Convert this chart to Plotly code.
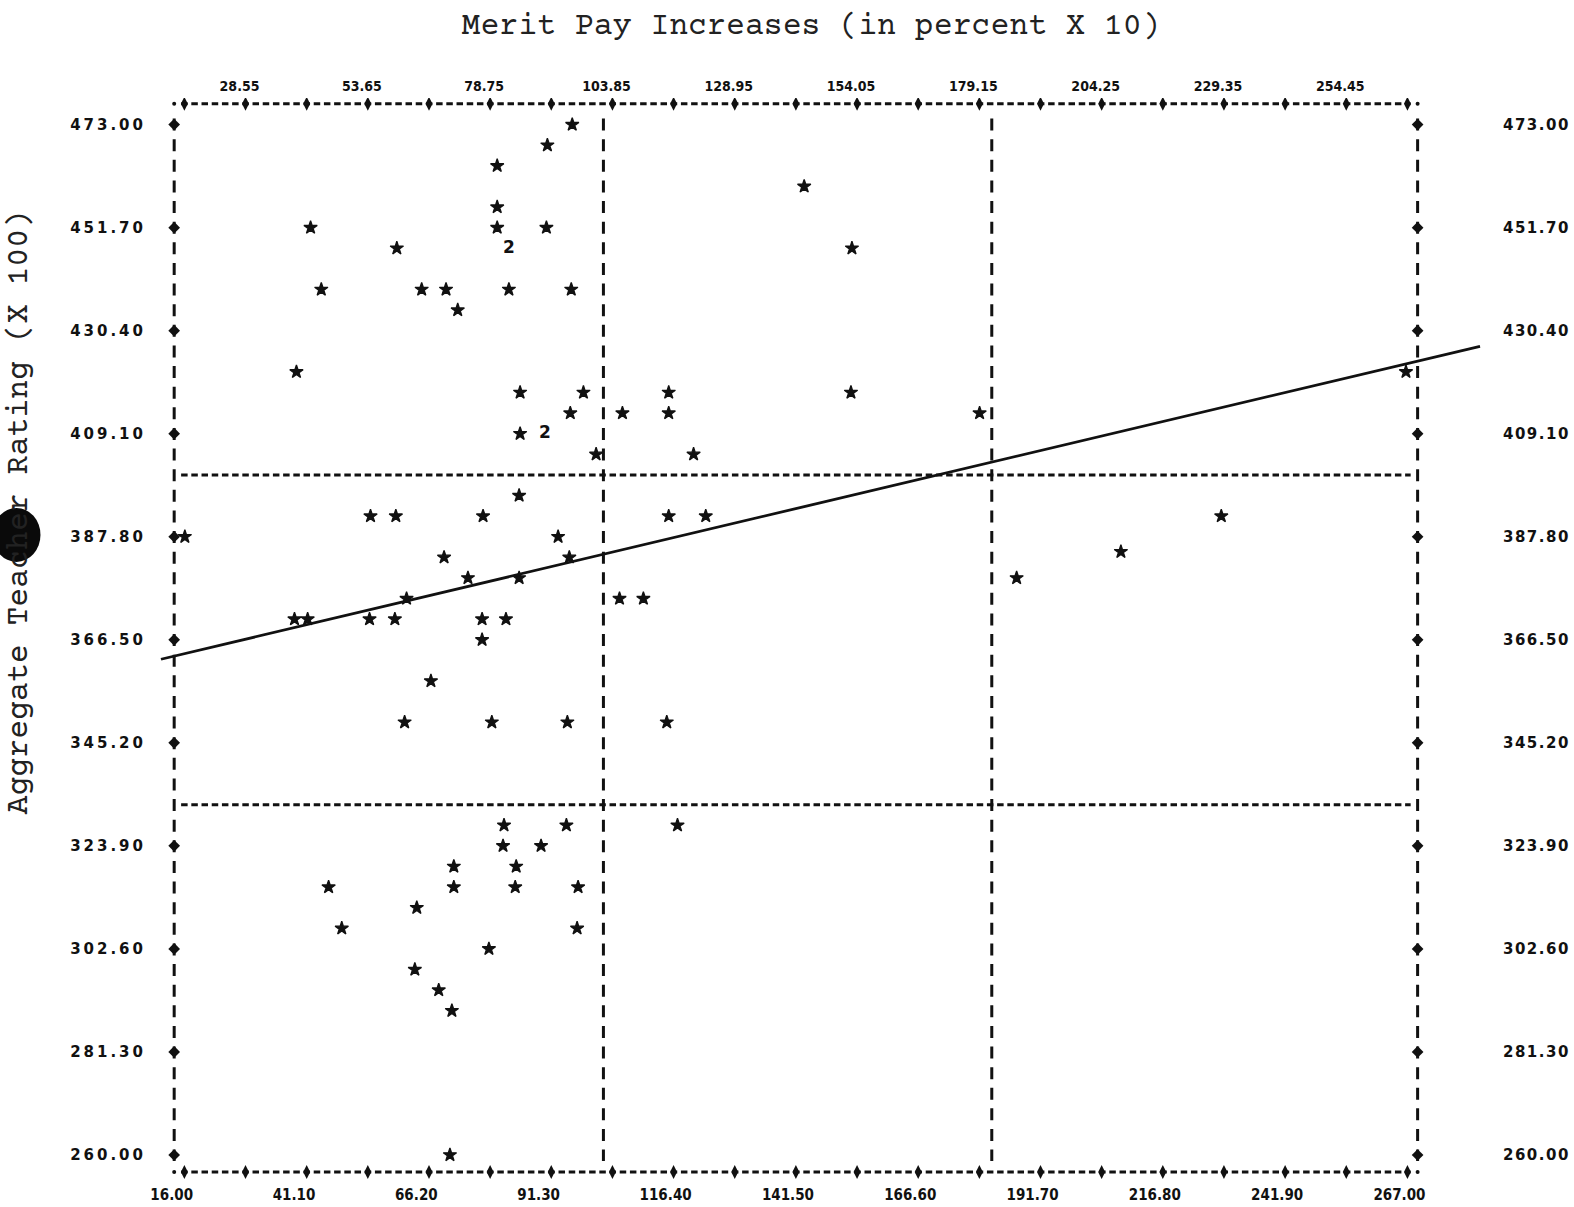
import numpy as np
import plotly.graph_objects as go

# ---------------- data ----------------
PAY_X = [95.6, 90.5, 80.2, 143.2, 80.2, 41.9, 80.2, 90.3, 59.6, 153.0,
         44.1, 64.7, 69.7, 82.6, 95.4, 72.1, 39.0, 266.7, 84.9, 97.9,
         115.4, 152.8, 95.2, 105.9, 115.4, 179.2, 84.9, 100.5, 120.5,
         84.7, 54.2, 59.4, 77.3, 115.4, 123.0, 228.8, 16.1, 92.7, 208.2,
         69.3, 95.0, 74.2, 84.7, 186.8, 61.6, 105.3, 110.2, 38.6, 41.3,
         54.0, 59.2, 77.1, 82.0, 77.1, 66.6, 61.2, 79.1, 94.6, 115.0,
         81.6, 94.4, 117.2, 81.4, 89.2, 71.3, 84.1, 45.6, 71.3, 83.9,
         96.8, 63.7, 48.3, 96.6, 78.5, 63.3, 68.2, 70.9, 70.5]
RATING_Y = [473.00, 468.74, 464.48, 460.22, 455.96, 451.70, 451.70, 451.70, 447.44, 447.44,
            438.92, 438.92, 438.92, 438.92, 438.92, 434.66, 421.88, 421.88, 417.62, 417.62,
            417.62, 417.62, 413.36, 413.36, 413.36, 413.36, 409.10, 404.84, 404.84,
            396.32, 392.06, 392.06, 392.06, 392.06, 392.06, 392.06, 387.80, 387.80, 384.70,
            383.54, 383.54, 379.28, 379.28, 379.28, 375.02, 375.02, 375.02, 370.76, 370.76,
            370.76, 370.76, 370.76, 370.76, 366.50, 357.98, 349.46, 349.46, 349.46, 349.46,
            328.16, 328.16, 328.16, 323.90, 323.90, 319.64, 319.64, 315.38, 315.38, 315.38,
            315.38, 311.12, 306.86, 306.86, 302.60, 298.34, 294.08, 289.82, 260.00]

# cells holding two cases (printed as "2")
DOUBLE_X = [82.6, 90.0]
DOUBLE_Y = [447.44, 409.10]
DOUBLE_LABEL = ["2", "2"]

# hand-drawn regression line
REG_INTERCEPT = 359.8
REG_SLOPE = 0.239
REG_X_ENDS = [11.2, 281.9]

X_BOTTOM_TICKS = [16.00, 41.10, 66.20, 91.30, 116.40, 141.50, 166.60, 191.70, 216.80, 241.90, 267.00]
X_TOP_TICKS = [28.55, 53.65, 78.75, 103.85, 128.95, 154.05, 179.15, 204.25, 229.35, 254.45]
Y_TICKS = [473.00, 451.70, 430.40, 409.10, 387.80, 366.50, 345.20, 323.90, 302.60, 281.30, 260.00]

X_REF_LINES = [102.0, 181.7]
Y_REF_LINES = [400.58, 332.42]
FRAME_X = [13.91, 269.09]
FRAME_Y = [256.5, 477.3]

X_RANGE = [11.0, 282.1]
Y_RANGE = [254.0, 478.5]

# ---------------- geometry ----------------
W, H = 1574, 1207
ML, MR, MT, MB = 159.6, 92.5, 97.9, 22.6
PX_PER_X = (W - ML - MR) / (X_RANGE[1] - X_RANGE[0])
PX_PER_Y = (H - MT - MB) / (Y_RANGE[1] - Y_RANGE[0])
ROW_PITCH = (Y_TICKS[0] - Y_TICKS[1]) / 5 * PX_PER_Y
COL_PITCH = (X_TOP_TICKS[0] - X_BOTTOM_TICKS[0]) / 6 * PX_PER_X
I_LEN = 12.0
D_LEN = 6.5


def paper_x(px):
    return (px - ML) / (W - ML - MR)


def paper_y(py):
    return (H - MB - py) / (H - MT - MB)


INK = "#111111"
MONO_TITLE = "Nimbus Mono PS, Courier Prime, FreeMono, Liberation Mono, monospace"
LABEL_FONT = "DejaVu Sans Condensed, DejaVu Sans, sans-serif"

fig = go.Figure()

# stars
fig.add_trace(go.Scatter(
    x=PAY_X, y=RATING_Y, mode="markers",
    marker=dict(symbol="star", size=10, color=INK, line=dict(width=1.3, color=INK)),
    showlegend=False, hoverinfo="x+y"))

# double cases
fig.add_trace(go.Scatter(
    x=DOUBLE_X, y=DOUBLE_Y, mode="text", text=DOUBLE_LABEL,
    textfont=dict(family="DejaVu Sans, sans-serif", size=17, color=INK, weight="bold"),
    showlegend=False, hoverinfo="skip"))

# regression line
reg_x = np.array(REG_X_ENDS)
reg_y = REG_INTERCEPT + REG_SLOPE * reg_x
fig.add_trace(go.Scatter(
    x=reg_x, y=reg_y, mode="lines",
    line=dict(color=INK, width=2.8), showlegend=False, hoverinfo="skip"))

# frame dashed lines ("I" columns and "-" rows)
v_top = max(Y_TICKS) + I_LEN / 2 / PX_PER_Y
v_bot = min(Y_TICKS) - I_LEN / 2 / PX_PER_Y
for xv in [FRAME_X[0]] + X_REF_LINES + [FRAME_X[1]]:
    fig.add_shape(type="line", xref="x", yref="y", x0=xv, x1=xv, y0=v_top, y1=v_bot,
                  line=dict(color=INK, width=3, dash=f"{I_LEN}px,{ROW_PITCH - I_LEN:.2f}px"))
h_left = min(X_BOTTOM_TICKS) - D_LEN / 2 / PX_PER_X
h_right = max(X_BOTTOM_TICKS) + D_LEN / 2 / PX_PER_X
for yv in [FRAME_Y[1]] + Y_REF_LINES + [FRAME_Y[0]]:
    fig.add_shape(type="line", xref="x", yref="y", x0=h_left, x1=h_right, y0=yv, y1=yv,
                  line=dict(color=INK, width=3, dash=f"{D_LEN}px,{COL_PITCH - D_LEN:.2f}px"))

# "+" marks on the frame
border_x_ticks = sorted(X_BOTTOM_TICKS + X_TOP_TICKS)
fig.add_trace(go.Scatter(
    x=border_x_ticks * 2, y=[FRAME_Y[1]] * len(border_x_ticks) + [FRAME_Y[0]] * len(border_x_ticks),
    mode="markers", marker=dict(symbol="diamond-tall", size=10, color=INK),
    showlegend=False, hoverinfo="skip"))
fig.add_trace(go.Scatter(
    x=[FRAME_X[0]] * len(Y_TICKS) + [FRAME_X[1]] * len(Y_TICKS), y=Y_TICKS * 2,
    mode="markers", marker=dict(symbol="diamond", size=9, color=INK),
    showlegend=False, hoverinfo="skip"))
# corner dots
fig.add_trace(go.Scatter(
    x=[FRAME_X[0], FRAME_X[1], FRAME_X[0], FRAME_X[1]],
    y=[FRAME_Y[1], FRAME_Y[1], FRAME_Y[0], FRAME_Y[0]],
    mode="markers", marker=dict(symbol="circle", size=4, color=INK),
    showlegend=False, hoverinfo="skip"))

# invisible trace to anchor secondary axes
fig.add_trace(go.Scatter(x=[X_RANGE[0]], y=[Y_RANGE[0]], xaxis="x2", yaxis="y2",
                         mode="markers", marker=dict(opacity=0), showlegend=False, hoverinfo="skip"))

left_text = ["\u2009".join(f"{v:.2f}") for v in Y_TICKS]
right_text = ["\u200a".join(f"{v:.2f}") for v in Y_TICKS]

common = dict(showgrid=False, zeroline=False, showline=False, ticks="", automargin=False, fixedrange=True)

fig.update_layout(
    width=W, height=H, autosize=False,
    margin=dict(l=ML, r=MR, t=MT, b=MB, pad=0),
    paper_bgcolor="white", plot_bgcolor="white",
    showlegend=False,
    title=dict(text="Merit Pay Increases (in percent X 10)",
               x=811 / W, xref="container", xanchor="center",
               y=1 - 23 / H, yref="container", yanchor="middle",
               font=dict(family=MONO_TITLE, size=31.5, color="#222222")),
    xaxis=dict(range=X_RANGE, tickvals=X_BOTTOM_TICKS,
               ticktext=[f"{v:.2f}" for v in X_BOTTOM_TICKS],
               ticklabelposition="outside right", ticklabelshift=-34, ticklabelstandoff=0,
               tickfont=dict(family=LABEL_FONT, size=15, color=INK, weight="bold"), **common),
    xaxis2=dict(range=X_RANGE, overlaying="x", side="top", tickvals=X_TOP_TICKS,
                ticktext=[f"{v:.2f}" for v in X_TOP_TICKS], ticklabelshift=-6, ticklabelstandoff=3,
                tickfont=dict(family=LABEL_FONT, size=14, color=INK, weight="bold"), **common),
    yaxis=dict(range=Y_RANGE, tickvals=Y_TICKS, ticktext=left_text, ticklabelstandoff=16,
               tickfont=dict(family="DejaVu Sans, sans-serif", size=15, color=INK, weight="bold"), **common),
    yaxis2=dict(range=Y_RANGE, overlaying="y", side="right", tickvals=Y_TICKS, ticktext=right_text,
                ticklabelstandoff=21,
                tickfont=dict(family="DejaVu Sans, sans-serif", size=15, color=INK, weight="bold"), **common),
)

# rotated y title
fig.add_annotation(text="Aggregate Teacher Rating (X 100)", textangle=-90,
                   xref="paper", yref="paper", x=paper_x(19), y=paper_y(512),
                   xanchor="center", yanchor="middle", showarrow=False,
                   font=dict(family=MONO_TITLE, size=31.5, color="#222222"))

# scan blot over the y title
fig.add_shape(type="circle", xref="paper", yref="paper",
              x0=paper_x(-8), x1=paper_x(40), y0=paper_y(508), y1=paper_y(562),
              fillcolor="#0a0a0a", line=dict(width=0), layer="above")

# remove the default page margin so the figure fills the window exactly
fig.write_html("out.html", config={"displayModeBar": False},
               post_script="document.body.style.margin='0';")
